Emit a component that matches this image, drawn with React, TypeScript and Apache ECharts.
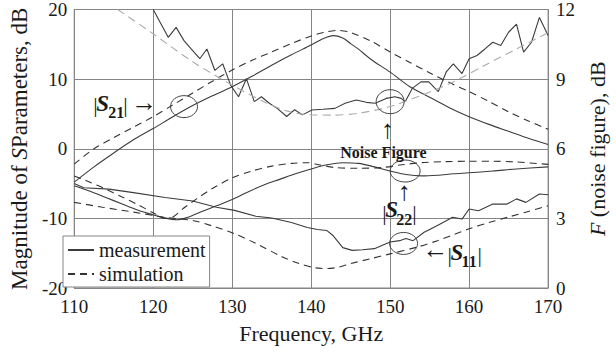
import React, { useEffect, useRef } from 'react';
import * as echarts from 'echarts';

// ---------- data ----------
const s21MeasFreq = [110, 112.5, 115, 117.5, 120, 122.5, 125, 127.5, 130, 132.5, 135, 137.5, 140, 141.5, 142.8, 144, 145, 146, 147.5, 150, 152.5, 155, 157.5, 160, 162.5, 165, 167.5, 170];
const s21MeasDb = [-4.8, -2.6, -0.6, 1.3, 2.9, 4.6, 6.2, 7.6, 8.9, 10.4, 12.0, 13.5, 14.9, 15.8, 16.25, 15.9, 15.1, 14.3, 12.9, 11.0, 8.9, 7.4, 5.9, 4.6, 3.5, 2.5, 1.5, 0.6];

const s21SimFreq = [110, 112.5, 115, 117.5, 120, 122.5, 125, 127.5, 130, 132.5, 135, 137.5, 140, 142, 143.5, 145, 147.5, 150, 152.5, 155, 157.5, 160, 162.5, 165, 167.5, 170];
const s21SimDb = [-2.2, 0.0, 1.6, 3.1, 4.6, 6.3, 8.0, 9.7, 11.3, 12.7, 13.9, 15.1, 16.2, 16.8, 17.0, 16.7, 15.5, 13.9, 12.4, 10.9, 9.5, 8.2, 6.8, 5.3, 4.0, 2.8];

const nfMeasFreq = [120, 121.9, 122.9, 123.9, 124.8, 125.9, 126.8, 127.8, 128.8, 129.8, 130.8, 131.8, 132.8, 133.7, 134.7, 135.7, 136.9, 137.9, 138.9, 140.1, 141.5, 143.0, 144.3, 145.7, 147.0, 148.1, 149.5, 150.6, 151.4, 151.9, 152.8, 153.9, 154.9, 156.1, 157.1, 158.0, 159.1, 160.0, 161.0, 162.0, 163.0, 164.0, 165.0, 166.0, 166.9, 167.9, 168.9, 170.0];
const nfMeasDb = [12.0, 10.8, 11.23, 10.66, 10.3, 9.88, 10.3, 9.38, 9.66, 8.74, 8.24, 9.02, 8.03, 8.24, 7.96, 7.74, 7.39, 7.68, 7.46, 7.67, 7.7, 7.74, 7.96, 8.1, 8.0, 7.96, 8.17, 8.24, 8.17, 8.03, 8.6, 8.88, 8.88, 8.46, 9.31, 9.66, 9.24, 9.88, 10.02, 10.3, 10.59, 10.45, 11.02, 11.37, 10.16, 10.59, 11.66, 10.88];

const nfSimFreq = [115.5, 120, 125, 130, 134, 137, 140, 143, 146, 150, 154, 158, 162, 166, 170];
const nfSimDb = [12.0, 10.95, 9.75, 8.74, 8.03, 7.62, 7.46, 7.45, 7.53, 7.82, 8.31, 8.88, 9.6, 10.3, 11.0];

const s22MeasFreq = [110, 112, 114, 116, 118, 120, 121.5, 123, 124.5, 126, 128, 130, 132, 134, 136, 138, 140, 142, 144, 146, 148, 150, 152, 154, 156, 158, 160, 163, 166, 170];
const s22MeasDb = [-5.3, -6.1, -7.0, -7.9, -8.8, -9.5, -9.95, -10.2, -9.8, -9.1, -8.2, -7.3, -6.2, -5.2, -4.4, -3.6, -2.9, -2.3, -2.0, -2.1, -2.6, -3.2, -3.7, -3.9, -3.8, -3.6, -3.45, -3.2, -2.9, -2.6];

const s22SimFreq = [110, 112, 114, 116, 118, 120, 121.5, 122.5, 124, 125.5, 127.5, 130, 132.5, 135, 137.5, 139.5, 141, 143, 146, 149, 151.5, 154, 157, 160, 163, 166, 170];
const s22SimDb = [-3.9, -4.8, -5.8, -6.9, -8.0, -9.2, -10.0, -9.8, -8.4, -7.2, -5.7, -4.2, -3.2, -2.5, -2.1, -2.0, -2.3, -2.7, -2.8, -2.7, -2.3, -2.0, -1.85, -1.8, -1.8, -1.9, -2.25];

const s11MeasFreq = [110, 111.2, 114.4, 117.5, 121.5, 125, 128, 130.3, 133, 135, 137.5, 139.5, 140.8, 142, 142.8, 144, 145.2, 146.5, 148, 150, 151.2, 152, 152.9, 154.3, 155.5, 156.7, 157.9, 159.1, 160, 161.2, 163, 164.8, 166, 167.2, 168.9, 170];
const s11MeasDb = [-5.0, -5.6, -5.8, -6.3, -7.0, -7.5, -8.4, -8.85, -9.7, -9.95, -10.6, -11.3, -11.6, -11.75, -12.5, -14.2, -14.6, -14.5, -14.35, -13.4, -13.2, -12.9, -13.2, -12.0, -11.3, -10.6, -9.85, -10.1, -8.65, -8.9, -7.95, -7.95, -7.2, -7.7, -6.5, -6.6];

const s11SimFreq = [110, 113.6, 117.5, 121.5, 125, 127.5, 130.3, 133, 136.3, 138.5, 140.5, 142, 143.5, 145, 147.5, 150, 153.5, 156, 158, 160, 162.5, 165, 167.5, 170];
const s11SimDb = [-7.7, -8.4, -9.1, -9.85, -10.3, -11.1, -12.2, -13.6, -15.5, -16.5, -17.1, -17.2, -17.0, -16.5, -15.8, -15.1, -14.1, -13.2, -12.35, -11.5, -10.6, -9.8, -9.0, -8.2];

const legendNames = ['measurement', 'simulation'];

// annotation anchors in data units (frequency GHz, left-axis dB)
const circleCenters = [
  [123.9, 6.05],
  [150.0, 6.76],
  [151.9, -3.2],
  [151.7, -13.6],
];
const labelS21Anchor = [112.4, 6.3];
const labelNfAnchor = [149.66, 2.78];
const labelS22Anchor = [149.0, -8.9];
const labelS11Anchor = [154.1, -14.59];

const FONT = 'Liberation Serif, Times New Roman, serif';
const INK = '#1a1a1a';
const GRID = '#858585';
const LINE = '#3c3c3c';

export default function App() {
  const ref = useRef<HTMLDivElement>(null);

  useEffect(() => {
    const chart = echarts.init(ref.current!, null, { renderer: 'svg' });
    const zip = (xs: number[], ys: number[]) => xs.map((x, i) => [x, ys[i]]);

    const solid = { color: LINE, width: 1.1, type: 'solid' as const };
    const dashed = { color: '#333', width: 1.1, type: [7, 5] as any };

    const option: any = {
      animation: false,
      backgroundColor: '#fff',
      grid: { left: 63, right: 47, top: 7, bottom: 66, show: true, borderColor: GRID, borderWidth: 1 },
      legend: {
        data: legendNames,
        orient: 'vertical',
        left: 63,
        top: 236,
        itemWidth: 26,
        itemHeight: 12,
        itemGap: 4,
        padding: [4, 4, 3, 4],
        backgroundColor: '#fff',
        borderColor: GRID,
        borderWidth: 1,
        selectedMode: false,
        itemStyle: { opacity: 0 },
        textStyle: { fontFamily: FONT, fontSize: 20, color: INK },
      },
      xAxis: {
        type: 'value',
        min: 110,
        max: 170,
        interval: 10,
        axisLine: { show: true, lineStyle: { color: GRID } },
        axisTick: { show: false },
        splitLine: { show: true, lineStyle: { color: GRID, width: 1 } },
        axisLabel: { fontFamily: FONT, fontSize: 19, color: INK, margin: 9 },
        name: 'Frequency, GHz',
        nameLocation: 'middle',
        nameGap: 34,
        nameTextStyle: { fontFamily: FONT, fontSize: 22, color: INK },
      },
      yAxis: [
        {
          type: 'value',
          position: 'left',
          min: -20,
          max: 20,
          interval: 10,
          axisLine: { show: true, lineStyle: { color: GRID } },
          axisTick: { show: false },
          splitLine: { show: true, lineStyle: { color: GRID, width: 1 } },
          axisLabel: { fontFamily: FONT, fontSize: 19, color: INK, margin: 7 },
          name: '{a|Magnitude of }{b|S}{a|Parameters, dB}',
          nameLocation: 'middle',
          nameRotate: 90,
          nameGap: 38,
          nameTextStyle: {
            fontFamily: FONT,
            rich: {
              a: { fontFamily: FONT, fontSize: 23, color: INK },
              b: { fontFamily: FONT, fontSize: 23, color: INK, fontStyle: 'italic' },
            },
          },
        },
        {
          type: 'value',
          position: 'right',
          min: 0,
          max: 12,
          interval: 3,
          axisLine: { show: true, lineStyle: { color: GRID } },
          axisTick: { show: false },
          splitLine: { show: false },
          axisLabel: { fontFamily: FONT, fontSize: 19, color: INK, margin: 8 },
          name: '{b|F}{a| (noise figure), dB}',
          nameLocation: 'middle',
          nameRotate: 90,
          nameGap: 27,
          nameTextStyle: {
            fontFamily: FONT,
            rich: {
              a: { fontFamily: FONT, fontSize: 22, color: INK },
              b: { fontFamily: FONT, fontSize: 22, color: INK, fontStyle: 'italic' },
            },
          },
        },
      ],
      series: [
        { name: 'measurement', type: 'line', yAxisIndex: 0, symbol: 'none', smooth: 0.3, lineStyle: solid, itemStyle: { color: LINE }, data: zip(s21MeasFreq, s21MeasDb) },
        { name: 'simulation', type: 'line', yAxisIndex: 0, symbol: 'none', smooth: 0.3, lineStyle: dashed, itemStyle: { color: '#333' }, data: zip(s21SimFreq, s21SimDb) },
        { name: 'NF measurement', type: 'line', yAxisIndex: 1, symbol: 'none', lineStyle: solid, itemStyle: { color: LINE }, data: zip(nfMeasFreq, nfMeasDb) },
        { name: 'NF simulation', type: 'line', yAxisIndex: 1, symbol: 'none', smooth: 0.3, lineStyle: { color: '#ababab', width: 1.1, type: [8, 5] }, itemStyle: { color: '#ababab' }, data: zip(nfSimFreq, nfSimDb) },
        { name: 'S22 measurement', type: 'line', yAxisIndex: 0, symbol: 'none', smooth: 0.3, lineStyle: solid, itemStyle: { color: LINE }, data: zip(s22MeasFreq, s22MeasDb) },
        { name: 'S22 simulation', type: 'line', yAxisIndex: 0, symbol: 'none', smooth: 0.3, lineStyle: dashed, itemStyle: { color: '#333' }, data: zip(s22SimFreq, s22SimDb) },
        { name: 'S11 measurement', type: 'line', yAxisIndex: 0, symbol: 'none', lineStyle: solid, itemStyle: { color: LINE }, data: zip(s11MeasFreq, s11MeasDb) },
        { name: 'S11 simulation', type: 'line', yAxisIndex: 0, symbol: 'none', smooth: 0.3, lineStyle: dashed, itemStyle: { color: '#333' }, data: zip(s11SimFreq, s11SimDb) },
      ],
    };
    chart.setOption(option);

    const toPx = (p: number[]) => chart.convertToPixel({ xAxisIndex: 0, yAxisIndex: 0 }, p) as number[];

    const styles: Record<string, any> = {
      bar: { fontFamily: FONT, fontSize: 22 },
      S: { fontFamily: FONT, fontSize: 23, fontWeight: 'bold', fontStyle: 'italic' },
      sub: { fontFamily: FONT, fontSize: 16, fontWeight: 'bold' },
      arrow: { fontFamily: FONT, fontSize: 26 },
      nf: { fontFamily: FONT, fontSize: 16, fontWeight: 'bold' },
    };

    const graphics: any[] = [];
    const circleSizes = [[13.5, 11], [14, 12], [15, 11], [14, 11]];
    circleCenters.forEach((c, i) => {
      const [cx, cy] = toPx(c);
      graphics.push({
        type: 'ellipse',
        shape: { cx, cy, rx: circleSizes[i][0], ry: circleSizes[i][1] },
        style: { fill: 'none', stroke: '#444', lineWidth: 1 },
        z: 10,
      });
    });

    const addLabel = (anchor: number[], pieces: any[]) => {
      const [ax, ay] = toPx(anchor);
      pieces.forEach(([text, dx, dy, kind, align]) => {
        graphics.push({
          type: 'text',
          x: ax + dx,
          y: ay + dy,
          z: 11,
          style: { text, fill: INK, align: align || 'left', verticalAlign: 'middle', ...styles[kind] },
        });
      });
    };

    addLabel(labelS21Anchor, [
      ['|', 0, 0, 'bar'],
      ['S', 3, -1, 'S'],
      ['21', 15, 8, 'sub'],
      ['|', 30, 0, 'bar'],
      ['\u2192', 38, -2, 'arrow'],
    ]);
    addLabel(labelNfAnchor, [
      ['\u2191', 0, 0, 'arrow', 'center'],
      ['Noise Figure', -4, 23, 'nf', 'center'],
    ]);
    addLabel(labelS22Anchor, [
      ['\u2191', 22, -19, 'arrow', 'center'],
      ['|', 0, 2, 'bar'],
      ['S', 3, -1, 'S'],
      ['22', 14, 9, 'sub'],
      ['|', 30, 2, 'bar'],
    ]);
    addLabel(labelS11Anchor, [
      ['\u2190', 0, -1, 'arrow'],
      ['|', 25, 4, 'bar'],
      ['S', 28, 2, 'S'],
      ['11', 39, 11, 'sub'],
      ['|', 55, 4, 'bar'],
    ]);

    chart.setOption({ graphic: graphics });

    return () => chart.dispose();
  }, []);

  return <div ref={ref} style={{ position: 'fixed', left: 0, top: 0, width: 616, height: 354 }} />;
}
